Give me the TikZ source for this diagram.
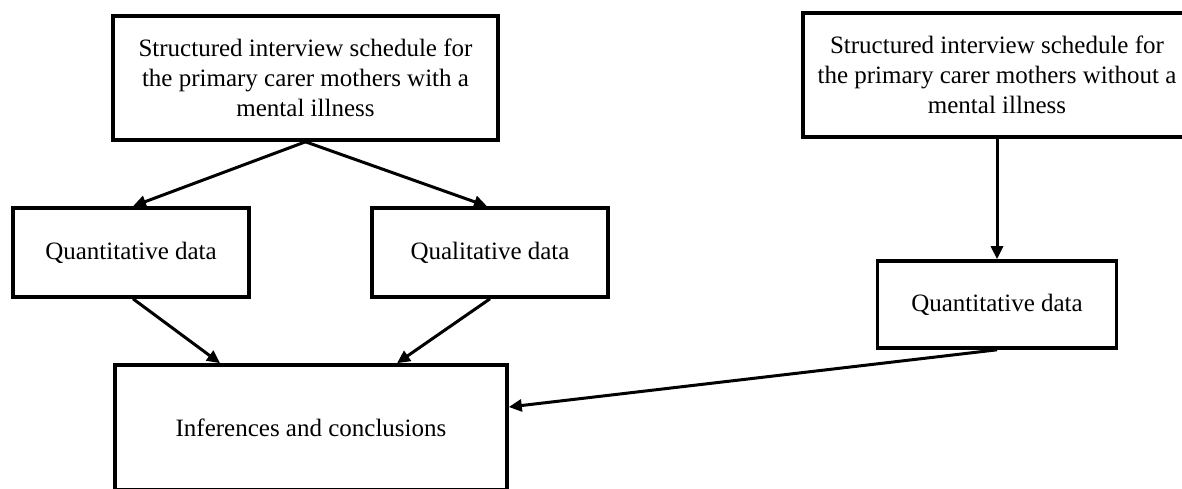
\documentclass[tikz,border=0pt]{standalone}
\usepackage{fontspec}
\setmainfont{Liberation Serif}
\usetikzlibrary{arrows.meta}
\begin{document}
\begin{tikzpicture}[x=0.5pt,y=-0.5pt,
  box/.style={draw=black,line width=1.8pt,fill=white,rectangle,inner sep=0pt,
    align=center,font=\fontsize{12.5pt}{15pt}\selectfont},
  link/.style={line width=1.5pt,-{Triangle[length=6.5pt,width=6pt]}}]
\useasboundingbox (0,0) rectangle (1182,488);
\clip (0,0) rectangle (1182,488);
% top sources
\node[box,minimum width=192.5pt,minimum height=62pt] (with) at (305.5,78)
  {Structured interview schedule for\\the primary carer mothers with a\\mental illness};
\node[box,minimum width=194pt,minimum height=62pt] (without) at (997,75)
  {Structured interview schedule for\\the primary carer mothers without a\\mental illness};
% data boxes
\node[box,minimum width=118pt,minimum height=44.5pt] (quantL) at (131,252.5) {Quantitative data};
\node[box,minimum width=118pt,minimum height=44.5pt] (qual) at (490,252.5) {Qualitative data};
\node[box,minimum width=119.5pt,minimum height=43.5pt] (quantR) at (997,304.5) {Quantitative data};
% outcome
\node[box,minimum width=196pt,minimum height=62.5pt] (inf) at (311,427.5) {Inferences and conclusions};
% connectors
\draw[link] (with.south) -- ([xshift=1pt]quantL.north);
\draw[link] (with.south) -- ([xshift=-1.5pt]qual.north);
\draw[link] (without.south) -- (quantR.north);
\draw[link] ([xshift=1pt]quantL.south) -- ([xshift=-45.5pt]inf.north);
\draw[link] (qual.south) -- ([xshift=43pt]inf.north);
\draw[link] (quantR.south) -- ([yshift=10.25pt]inf.east);
\end{tikzpicture}
\end{document}
